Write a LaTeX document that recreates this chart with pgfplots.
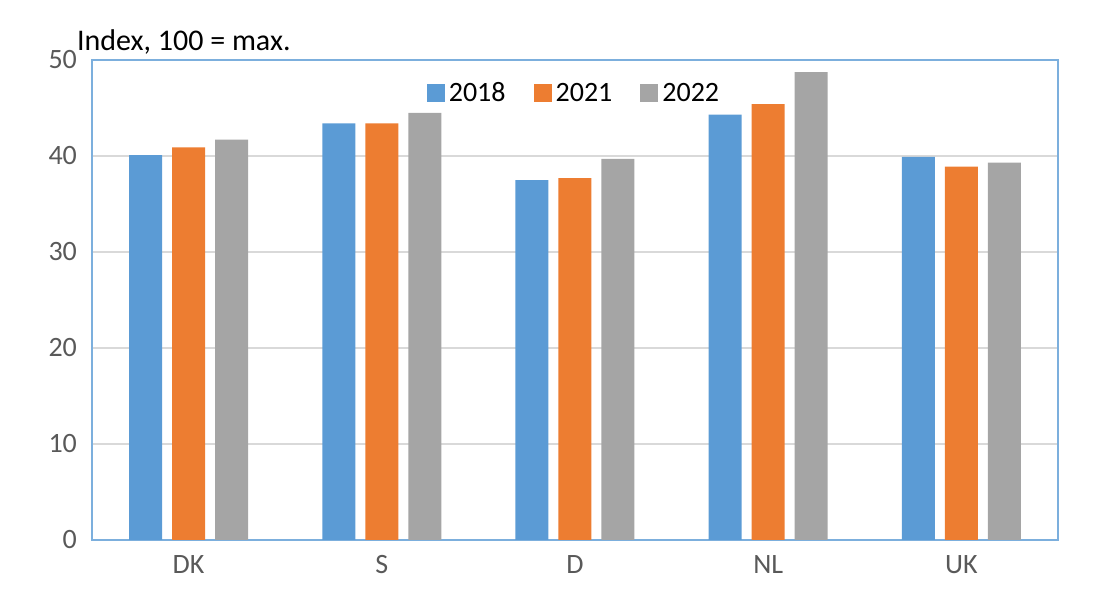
\documentclass[border=0pt]{standalone}
\usepackage{pgfplots}
\pgfplotsset{compat=1.18}
\usepackage{fontspec}
\setmainfont{Carlito}
\definecolor{cb}{HTML}{5B9BD5}
\definecolor{co}{HTML}{ED7D31}
\definecolor{cg}{HTML}{A5A5A5}
\definecolor{tk}{HTML}{595959}
\begin{document}
\begin{tikzpicture}
\path[use as bounding box] (-46pt,-30pt) rectangle (504pt,270pt);
\begin{axis}[
  at={(0,0)}, anchor=south west,
  scale only axis, width=483pt, height=240pt,
  xmin=-0.5, xmax=4.5, ymin=0, ymax=50,
  ybar, bar width=16.5pt,
  xtick=data, xticklabels={DK,S,D,NL,UK},
  ytick={0,10,...,50},
  ymajorgrids, grid style={color=black!15, line width=0.6pt},
  axis line style={color=cb!80, line width=0.6pt},
  major tick length=0pt,
  tick label style={font=\fontsize{14}{16}\selectfont, color=tk},
  /pgf/number format/assume math mode=true,
  yticklabel style={xshift=-4pt},
  xticklabel style={yshift=-4pt},
  legend style={draw=none, fill=none, at={(0.5,0.97)}, anchor=north, legend columns=-1,
     font=\fontsize{14}{16}\selectfont, /tikz/every even column/.append style={column sep=12pt}},
  legend image code/.code={\fill[#1] (0pt,-4pt) rectangle (9pt,5pt);},
  clip=false,
]
\addplot[fill=cb, draw=none, bar shift=-21.5pt] coordinates {(0,40.1) (1,43.4) (2,37.5) (3,44.3) (4,39.9)};
\addplot[fill=co, draw=none, bar shift=0pt] coordinates {(0,40.9) (1,43.4) (2,37.7) (3,45.4) (4,38.9)};
\addplot[fill=cg, draw=none, bar shift=21.5pt] coordinates {(0,41.7) (1,44.5) (2,39.7) (3,48.75) (4,39.3)};
\legend{2018,2021,2022}
\end{axis}
\node[anchor=west, font=\fontsize{15}{17}\selectfont] at (-11pt,249pt) {Index, 100 = max.};
\end{tikzpicture}
\end{document}
